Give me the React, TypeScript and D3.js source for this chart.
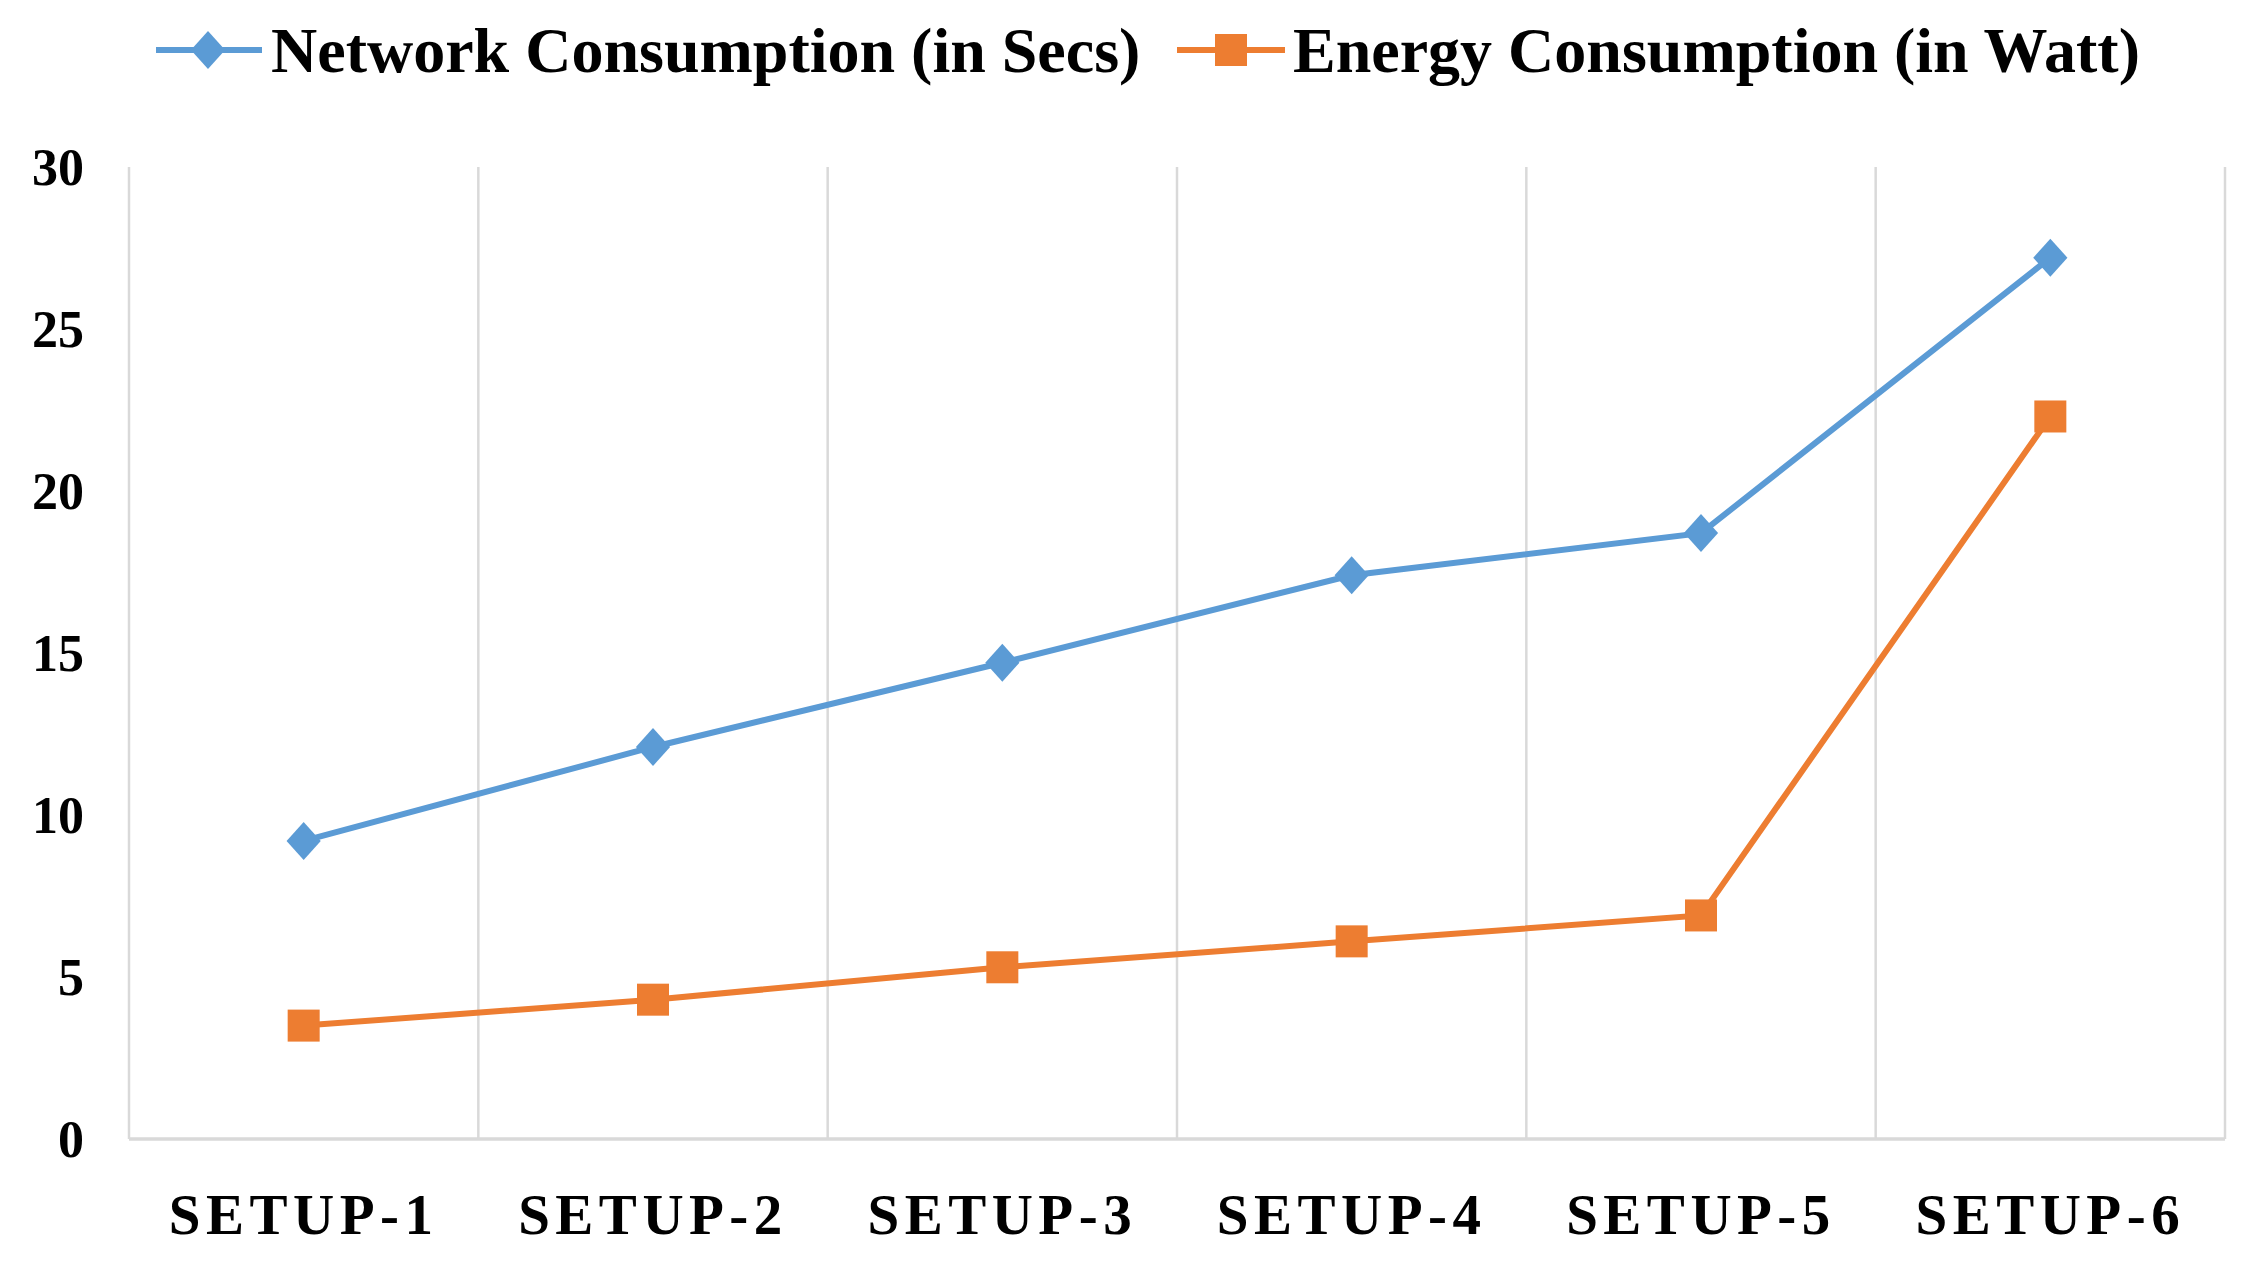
import { useEffect } from "react";
import * as d3 from "d3";

const categories = ["SETUP-1", "SETUP-2", "SETUP-3", "SETUP-4", "SETUP-5", "SETUP-6"];
const networkValues = [9.2, 12.1, 14.7, 17.4, 18.7, 27.2];
const energyValues = [3.5, 4.3, 5.3, 6.1, 6.9, 22.3];
const yTicks = [0, 5, 10, 15, 20, 25, 30];
const seriesNames = ["Network Consumption (in Secs)", "Energy Consumption (in Watt)"];

const width = 2257;
const height = 1265;
const margin = { top: 167, right: 32, bottom: 126, left: 129 };
const BLUE = "#5b9bd5";
const ORANGE = "#ed7d31";
const GRID = "#d9d9d9";
const FONT = "'Liberation Serif', 'Times New Roman', serif";

export default function App() {
  useEffect(() => {
    document.body.style.margin = "0";
  }, []);

  const x = d3
    .scaleBand<string>()
    .domain(categories)
    .range([margin.left, width - margin.right]);
  const y = d3
    .scaleLinear()
    .domain([0, 30])
    .range([height - margin.bottom, margin.top]);

  const cx = (c: string) => (x(c) ?? 0) + x.bandwidth() / 2;

  const line = d3
    .line<number>()
    .x((_, i) => cx(categories[i]))
    .y((d) => y(d));

  const boundaries = categories.map((c) => x(c) ?? 0).concat([width - margin.right]);

  const diamond = (px: number, py: number, r = 19) =>
    `M${px},${py - r}L${px + r * 0.9},${py}L${px},${py + r}L${px - r * 0.9},${py}Z`;

  return (
    <svg width={width} height={height} style={{ display: "block", background: "#fff" }}>
      {/* vertical grid lines */}
      {boundaries.map((bx, i) => (
        <line
          key={"g" + i}
          x1={bx}
          x2={bx}
          y1={y(30)}
          y2={y(0)}
          stroke={GRID}
          strokeWidth={2.5}
        />
      ))}
      {/* x axis line */}
      <line
        x1={margin.left}
        x2={width - margin.right}
        y1={y(0)}
        y2={y(0)}
        stroke={GRID}
        strokeWidth={3.5}
      />

      {/* y tick labels */}
      {yTicks.map((t) => (
        <text
          key={"y" + t}
          x={84}
          y={y(t)}
          dy="0.35em"
          textAnchor="end"
          fontFamily={FONT}
          fontWeight="bold"
          fontSize={52}
          fill="#000"
        >
          {t}
        </text>
      ))}

      {/* x tick labels */}
      {categories.map((c) => (
        <text
          key={"x" + c}
          x={cx(c)}
          y={1234}
          textAnchor="middle"
          fontFamily={FONT}
          fontWeight="bold"
          fontSize={57}
          letterSpacing={5.5}
          fill="#000"
        >
          {c}
        </text>
      ))}

      {/* series lines */}
      <path d={line(networkValues) ?? ""} fill="none" stroke={BLUE} strokeWidth={6} />
      <path d={line(energyValues) ?? ""} fill="none" stroke={ORANGE} strokeWidth={6} />

      {/* markers */}
      {networkValues.map((v, i) => (
        <path key={"n" + i} d={diamond(cx(categories[i]), y(v))} fill={BLUE} />
      ))}
      {energyValues.map((v, i) => (
        <rect
          key={"e" + i}
          x={cx(categories[i]) - 16}
          y={y(v) - 16}
          width={32}
          height={32}
          fill={ORANGE}
        />
      ))}

      {/* legend */}
      <g>
        <line x1={156} x2={262} y1={50} y2={50} stroke={BLUE} strokeWidth={6} />
        <path d={diamond(208, 50)} fill={BLUE} />
        <text
          x={271}
          y={72}
          fontFamily={FONT}
          fontWeight="bold"
          fontSize={64}
          fill="#000"
        >
          {seriesNames[0]}
        </text>
        <line x1={1177} x2={1285} y1={50} y2={50} stroke={ORANGE} strokeWidth={6} />
        <rect x={1215} y={34} width={32} height={32} fill={ORANGE} />
        <text
          x={1293}
          y={72}
          fontFamily={FONT}
          fontWeight="bold"
          fontSize={64}
          fill="#000"
        >
          {seriesNames[1]}
        </text>
      </g>
    </svg>
  );
}
